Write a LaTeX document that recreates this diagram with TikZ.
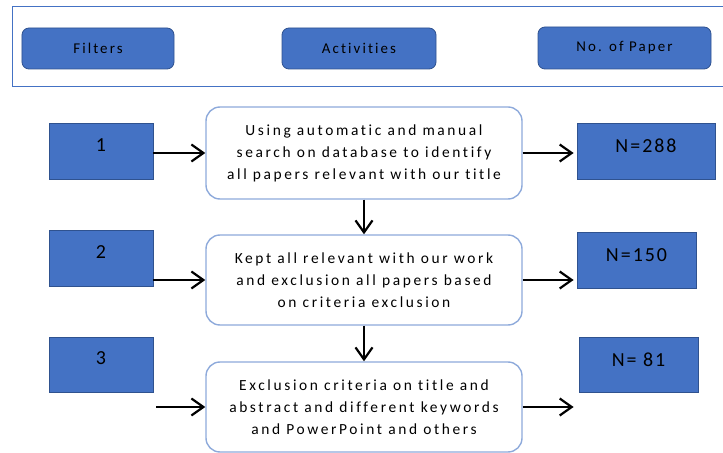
\documentclass[tikz,border=0pt]{standalone}
\usepackage{fontspec}
\setmainfont{Carlito}
\newfontfamily\spc[LetterSpace=14,Ligatures=NoCommon]{Carlito}
\newfontfamily\spca[LetterSpace=17,Ligatures=NoCommon]{Carlito}
\newfontfamily\spcb[LetterSpace=10]{Carlito}
\usetikzlibrary{arrows.meta}
\definecolor{boxblue}{HTML}{4472C4}
\definecolor{boxedge}{HTML}{2F528F}
\definecolor{lightedge}{HTML}{8EAADB}
\definecolor{frameblue}{HTML}{4472C4}
\begin{document}
\begin{tikzpicture}[x=1bp,y=-1bp,
  hdr/.style={draw=boxedge,line width=0.8bp,fill=boxblue,rounded corners=7bp,
    inner sep=0pt,font=\fontsize{15}{18}\spc,text=black},
  numbox/.style={draw=boxedge,line width=0.8bp,fill=boxblue,inner sep=0pt},
  actbox/.style={draw=lightedge,line width=1.4bp,fill=white,rounded corners=14bp,
    inner sep=0pt,align=center,font=\fontsize{15.5}{22}\spca,text=black},
  numlab/.style={font=\fontsize{20}{24}\spcb,text=black},
  arr/.style={draw=black,line width=2.2bp,-{Straight Barb[length=12bp,width=17bp,line width=2.2bp]}}
]
\useasboundingbox (0,0) rectangle (723,453);
% header frame (open on the right, cut by the page edge)
\draw[frameblue,line width=1bp] (730,7) -- (12,7) -- (12,87) -- (730,87);
\node[hdr,minimum width=152bp,minimum height=41bp] (filters) at (98,48.5) {Filters};
\node[hdr,minimum width=154bp,minimum height=41bp] (activities) at (359,48.5) {Activities};
\node[hdr,minimum width=173bp,minimum height=42bp] (nopaper) at (624.5,48) {No. of Paper};

% filter boxes
\node[numbox,minimum width=104bp,minimum height=56bp,
  label={[numlab,yshift=6bp]center:1}] (b1) at (101,151) {};
\node[numbox,minimum width=104bp,minimum height=56bp,
  label={[numlab,yshift=6bp]center:2}] (b2) at (101,258) {};
\node[numbox,minimum width=104bp,minimum height=55bp,
  label={[numlab,yshift=6bp]center:3}] (b3) at (101,364.5) {};

% activity boxes
\node[actbox,minimum width=316bp,minimum height=92bp] (a1) at (364,153)
  {Using automatic and manual\\search on database to identify\\all papers relevant with our title};
\node[actbox,minimum width=316bp,minimum height=90bp] (a2) at (364,280)
  {Kept all relevant with our work\\and exclusion all papers based\\on criteria exclusion};
\node[actbox,minimum width=316bp,minimum height=90bp] (a3) at (364,407)
  {Exclusion criteria on title and\\abstract and different keywords\\and PowerPoint and others};

% number-of-paper boxes
\node[numbox,minimum width=138bp,minimum height=56bp,
  label={[numlab,yshift=5bp]center:N=288}] (n1) at (646,151) {};
\node[numbox,minimum width=119bp,minimum height=56bp,
  label={[numlab,yshift=5bp]center:N=150}] (n2) at (636.5,260) {};
\node[numbox,minimum width=119bp,minimum height=55bp,
  label={[numlab,yshift=5bp]center:N= 81}] (n3) at (638.5,364.5) {};

% connectors
\draw[arr] (b1.east |- a1.west) -- (a1.west);
\draw[arr] (b2.east |- a2.west) -- (a2.west);
\draw[arr] ([xshift=3bp]b3.east |- a3.west) -- (a3.west);
\draw[arr] (a1.east) -- ([xshift=-3bp]a1.east -| n1.west);
\draw[arr] (a2.east) -- ([xshift=-3bp]a2.east -| n2.west);
\draw[arr] (a3.east) -- ([xshift=-5bp]a3.east -| n3.west);
\draw[arr] (a1.south) -- (a2.north);
\draw[arr] (a2.south) -- (a3.north);
\end{tikzpicture}
\end{document}
